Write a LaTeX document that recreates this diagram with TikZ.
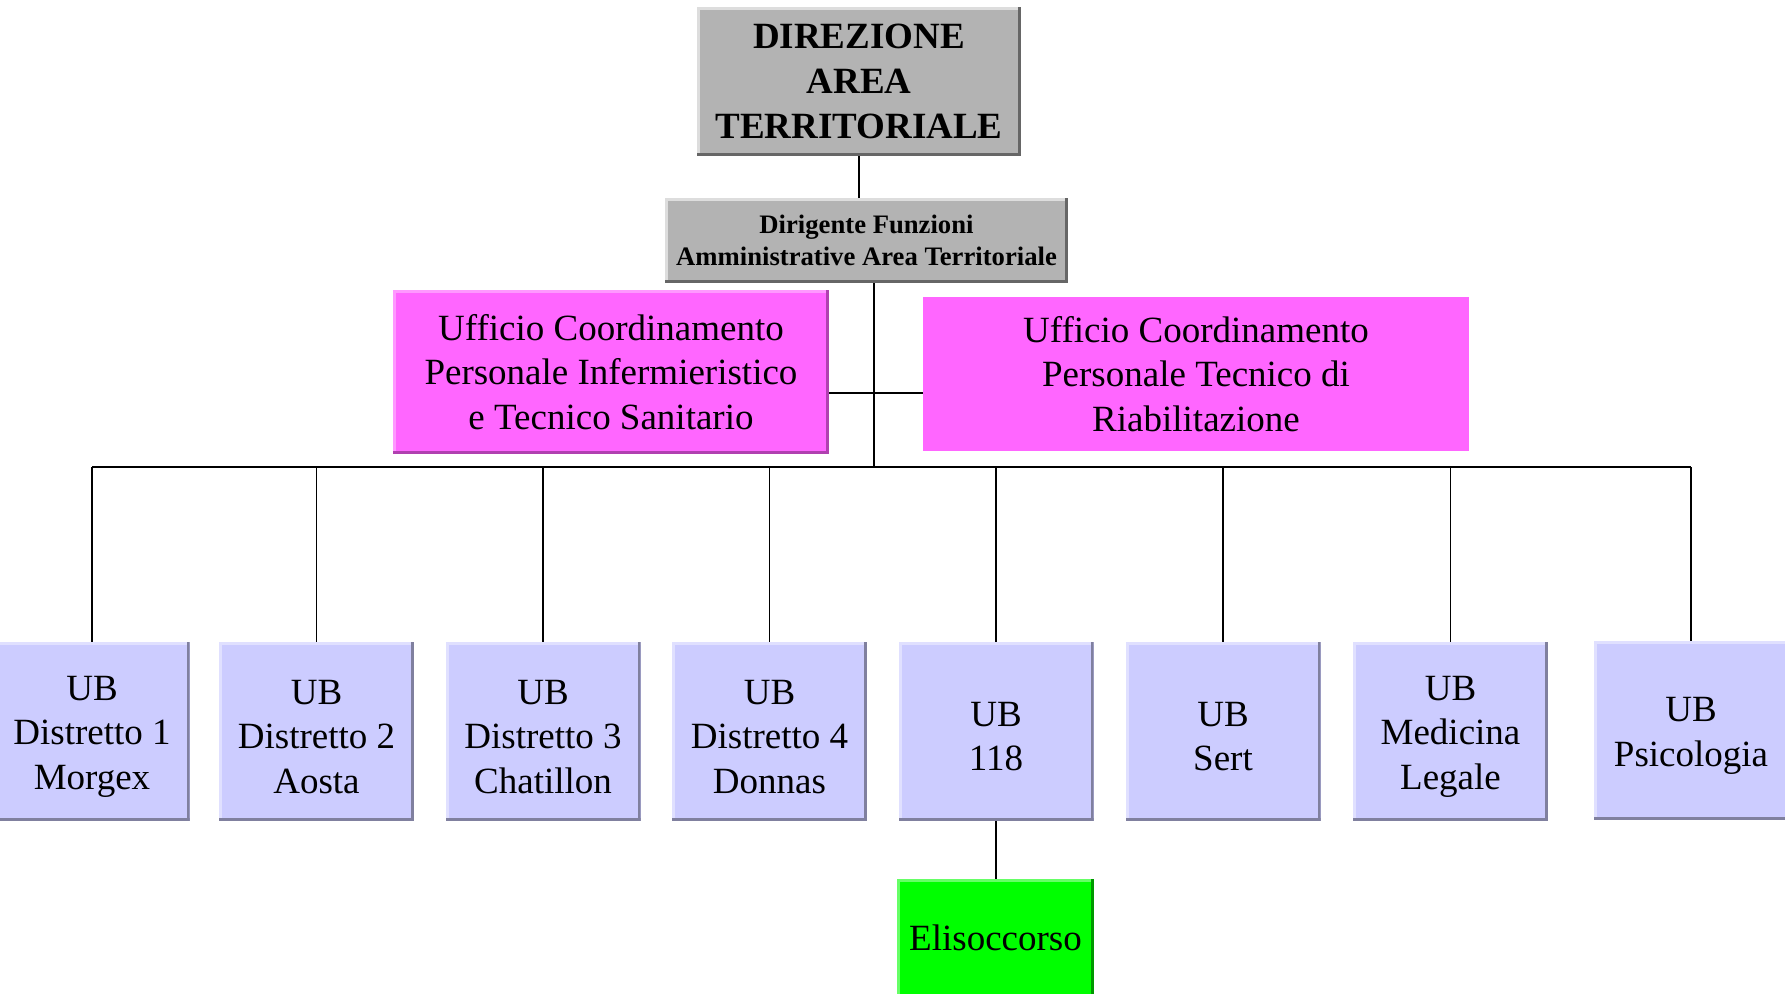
\documentclass[tikz,border=0pt]{standalone}
\usepackage{fontspec}
\setmainfont{Liberation Serif}
\definecolor{grayfill}{HTML}{B3B3B3}
\definecolor{graylight}{HTML}{DDDDDD}
\definecolor{graydark}{HTML}{666666}
\definecolor{pinkfill}{HTML}{FF66FF}
\definecolor{pinklight}{HTML}{FF99FF}
\definecolor{pinkdark}{HTML}{B040B0}
\definecolor{lavfill}{HTML}{CCCCFF}
\definecolor{lavlight}{HTML}{E0E0FF}
\definecolor{lavdark}{HTML}{80809F}
\definecolor{greenfill}{HTML}{00FF00}
\definecolor{greenlight}{HTML}{66FF66}
\definecolor{greendark}{HTML}{009900}
\newcommand\ltop{\rule{0pt}{26pt}}
\tikzset{
  bevel/.style n args={2}{path picture={
    \fill[#1] (path picture bounding box.north west) rectangle ([xshift=2.25pt]path picture bounding box.south west);
    \fill[#1] (path picture bounding box.north west) rectangle ([yshift=-2.25pt]path picture bounding box.north east);
    \fill[#2] (path picture bounding box.south east) rectangle ([xshift=-2.25pt]path picture bounding box.north east);
    \fill[#2] (path picture bounding box.south east) rectangle ([yshift=2.25pt]path picture bounding box.south west);
  }},
  orgbox/.style={rectangle, inner sep=0pt, align=center, text=black,
    font=\fontsize{27.75}{33.4}\selectfont},
  graybox/.style={orgbox, fill=grayfill, bevel={graylight}{graydark}},
  pinkbox/.style={orgbox, fill=pinkfill},
  lavbox/.style={orgbox, fill=lavfill, bevel={lavlight}{lavdark},
    minimum width=146.25pt, minimum height=134.25pt},
  greenbox/.style={orgbox, fill=greenfill, bevel={greenlight}{greendark}},
  link/.style={draw=black, line width=1.2pt}
}
\begin{document}
\begin{tikzpicture}[x=0.75pt, y=-0.75pt]
\useasboundingbox (0,0) rectangle (1785,993);
% top
\node[graybox, minimum width=243pt, minimum height=111.75pt,
  font=\fontsize{27.75}{34}\selectfont\bfseries] (top) at (859,81.5)
  {DIREZIONE\\AREA\\TERRITORIALE};
\node[graybox, minimum width=302.25pt, minimum height=63.75pt,
  font=\fontsize{20}{24}\selectfont\bfseries] (dir) at (866.5,240.5)
  {Dirigente Funzioni\\Amministrative Area Territoriale};
\node[pinkbox, bevel={pinklight}{pinkdark}, minimum width=327pt, minimum height=123pt] (pinkL) at (611,372)
  {Ufficio Coordinamento\\Personale Infermieristico\\e Tecnico Sanitario};
\node[pinkbox, minimum width=409.5pt, minimum height=115.5pt] (pinkR) at (1196,374)
  {Ufficio Coordinamento\\Personale Tecnico di\\Riabilitazione};
% bottom row
\node[lavbox] (d1) at (92,731.5) {\ltop UB\\Distretto 1\\Morgex};
\node[lavbox] (d2) at (316.5,731.5) {\ltop UB\\Distretto 2\\Aosta};
\node[lavbox] (d3) at (543,731.5) {\ltop UB\\Distretto 3\\Chatillon};
\node[lavbox] (d4) at (769.5,731.5) {\ltop UB\\Distretto 4\\Donnas};
\node[lavbox] (d5) at (996,731.5) {\ltop UB\\118};
\node[lavbox] (d6) at (1223,731.5) {\ltop UB\\Sert};
\node[lavbox] (d7) at (1450.5,731.5) {\ltop UB\\Medicina\\Legale};
\node[lavbox] (d8) at (1691,730.5) {\ltop UB\\Psicologia};
\node[greenbox, minimum width=147.75pt, minimum height=88.5pt] (eli) at (995.5,938) {Elisoccorso};
% connectors
\coordinate (bus) at (874,467);
\coordinate (mid) at (874,393);
\draw[link] (top.south) -- (top.south |- dir.north);
\draw[link] (dir.south -| bus) -- (bus);
\draw[link] (pinkL.east |- mid) -- (pinkR.west |- mid);
\draw[link] (d1.north |- bus) -- (d8.north |- bus);
\foreach \n in {d1,d2,d3,d4,d5,d6,d7,d8}{
  \draw[link] (\n.north |- bus) -- (\n.north);
}
\draw[link] (d5.south) -- (eli.north -| d5.south);
\end{tikzpicture}
\end{document}
